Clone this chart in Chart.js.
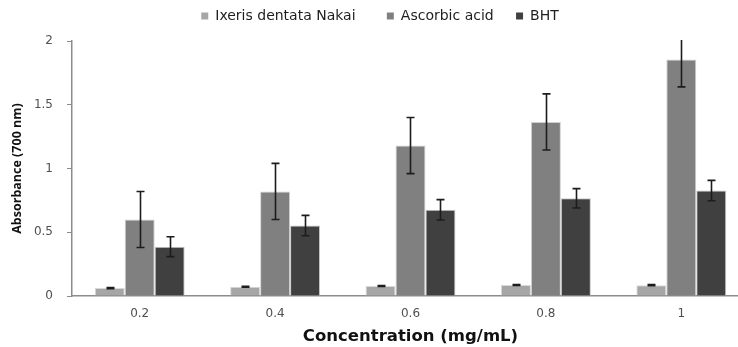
<!DOCTYPE html>
<html>
<head>
<meta charset="utf-8">
<script src="https://cdn.jsdelivr.net/npm/chart.js@4.4.1/dist/chart.umd.min.js"></script>
<style>
  html, body { margin: 0; padding: 0; background: #ffffff; overflow: hidden; width: 738px; height: 347px; }
  #wrap { position: absolute; left: 11px; top: 0; width: 738px; height: 347px; }
</style>
</head>
<body>
<div id="wrap"><canvas id="c"></canvas></div>
<script>
// Reducing power at 700 nm for each concentration
const concentrations = ['0.2', '0.4', '0.6', '0.8', '1'];

const ixerisValues = [0.062, 0.073, 0.078, 0.086, 0.085];
const ixerisErrors = [0.004, 0.003, 0.003, 0.004, 0.004];

const ascorbicValues = [0.60, 0.82, 1.18, 1.365, 1.855];
const ascorbicErrors = [0.22, 0.22, 0.22, 0.22, 0.215];

const bhtValues = [0.387, 0.552, 0.676, 0.766, 0.827];
const bhtErrors = [0.078, 0.08, 0.08, 0.076, 0.08];

const yTicks = [0, 0.5, 1, 1.5, 2];

// Extra room after each legend entry, so the entries sit further apart
const legendGaps = ['     ', '   ', ''];

// Fixed height of the legend band above the plot
const legendBand = 41;

// Draws symmetric error bars on top of every bar, clipped to the plot area
const errorBars = {
  id: 'errorBars',
  afterDatasetsDraw(chart) {
    const { ctx, chartArea, scales } = chart;
    const y = scales.y;
    ctx.save();
    ctx.beginPath();
    ctx.rect(chartArea.left, chartArea.top - 1, chartArea.right - chartArea.left, chartArea.bottom - chartArea.top + 1);
    ctx.clip();
    ctx.strokeStyle = '#1c1c1c';
    ctx.lineWidth = 1.6;
    chart.data.datasets.forEach((ds, di) => {
      const meta = chart.getDatasetMeta(di);
      if (!ds.errors) return;
      meta.data.forEach((bar, i) => {
        const v = ds.data[i], e = ds.errors[i];
        const x = Math.round(bar.x) + 0.5;
        const yTop = y.getPixelForValue(v + e);
        const yBot = y.getPixelForValue(v - e);
        const cap = 4;
        ctx.beginPath();
        ctx.moveTo(x, yTop); ctx.lineTo(x, yBot);
        ctx.moveTo(x - cap, yTop); ctx.lineTo(x + cap, yTop);
        ctx.moveTo(x - cap, yBot); ctx.lineTo(x + cap, yBot);
        ctx.stroke();
      });
    });
    ctx.restore();
  }
};

// Gives the legend a fixed band height while its row stays near the top
const legendHeight = {
  id: 'legendHeight',
  afterInit(chart) {
    const legend = chart.legend;
    if (!legend) return;
    const fit = legend.fit.bind(legend);
    legend.fit = function () {
      fit();
      this.height = legendBand;
    };
  }
};

const tickFont = { family: "'DejaVu Sans', sans-serif", size: 12 };

new Chart(document.getElementById('c'), {
  type: 'bar',
  data: {
    labels: concentrations,
    datasets: [
      { label: 'Ixeris dentata Nakai', data: ixerisValues, errors: ixerisErrors,
        backgroundColor: '#a6a6a6', borderColor: '#d9d9d9', borderWidth: 1 },
      { label: 'Ascorbic acid', data: ascorbicValues, errors: ascorbicErrors,
        backgroundColor: '#808080', borderColor: '#d0d0d0', borderWidth: 1 },
      { label: 'BHT', data: bhtValues, errors: bhtErrors,
        backgroundColor: '#404040', borderColor: '#c8c8c8', borderWidth: 1 }
    ]
  },
  options: {
    responsive: true,
    maintainAspectRatio: false,
    animation: false,
    devicePixelRatio: 1,
    layout: { padding: 0 },
    datasets: { bar: { categoryPercentage: 0.664, barPercentage: 1.0 } },
    plugins: {
      tooltip: { enabled: false },
      legend: {
        position: 'top',
        labels: {
          boxWidth: 7, boxHeight: 7, padding: 9,
          color: '#1e1e1e',
          font: { family: "'DejaVu Sans', sans-serif", size: 14 },
          generateLabels(chart) {
            const items = Chart.defaults.plugins.legend.labels.generateLabels(chart);
            items.forEach((it, i) => {
              it.lineWidth = 0;
              it.text = it.text + (legendGaps[i] || '');
            });
            return items;
          }
        }
      }
    },
    scales: {
      x: {
        grid: { display: false, drawTicks: false },
        border: { display: true, color: '#8c8c8c', width: 1.5 },
        ticks: { color: '#505050', font: tickFont, padding: 11 },
        title: {
          display: true, text: 'Concentration (mg/mL)', color: '#111111',
          font: { family: "'DejaVu Sans', sans-serif", size: 16.5, weight: 'bold' },
          padding: { top: 0, bottom: 0 }
        },
        afterFit(s) { s.height = 51; }
      },
      y: {
        min: 0, max: 2,
        afterBuildTicks(s) { s.ticks = yTicks.map(v => ({ value: v })); },
        grid: { drawOnChartArea: false, drawTicks: true, tickLength: 5, color: '#8c8c8c' },
        border: { display: true, color: '#8c8c8c', width: 1.5 },
        ticks: {
          color: '#505050', font: tickFont, padding: 14,
          callback: v => String(v)
        },
        title: {
          display: true, text: 'Absorbance (700 nm)', color: '#111111',
          font: { family: "'Open Sans', sans-serif", size: 12.5, weight: 'bold', lineHeight: 1 },
          padding: { top: 0, bottom: 0 }
        },
        afterFit(s) { s.width = 61; }
      }
    }
  },
  plugins: [errorBars, legendHeight]
});
</script>
</body>
</html>
